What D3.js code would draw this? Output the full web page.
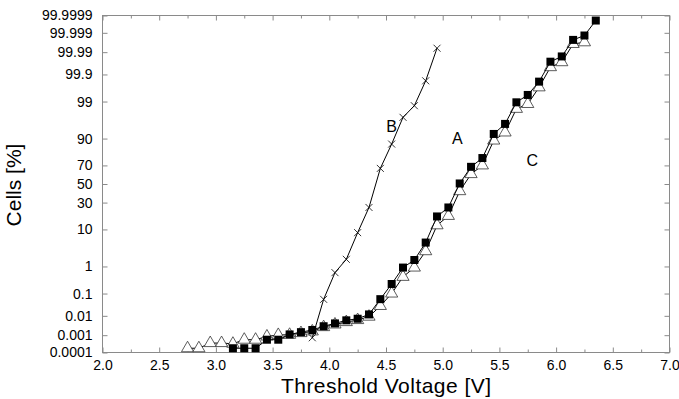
<!DOCTYPE html>
<html>
<head>
<meta charset="utf-8">
<script src="https://cdn.jsdelivr.net/npm/d3@7"></script>
<style>
  body { margin: 0; background: #fff; }
  svg { display: block; font-family: "Liberation Sans", Arial, sans-serif; }
  .frame { fill: none; stroke: #8a8a8a; stroke-width: 1; }
  .axis path.domain { display: none; }
  .axis line { stroke: #8a8a8a; }
  .axis text { font-size: 14px; fill: #000; }
  .series { fill: none; stroke: #000; stroke-width: 1; }
</style>
</head>
<body>
<svg id="chart" width="679" height="399"></svg>
<script>
// x ticks (V)
const xTicks = [2.0, 2.5, 3.0, 3.5, 4.0, 4.5, 5.0, 5.5, 6.0, 6.5, 7.0];
const xMinorTicks = [2.25, 2.75, 3.25, 3.75, 4.25, 4.75, 5.25, 5.75, 6.25, 6.75];
// y ticks (cumulative %)
const yTicks = [0.0001, 0.001, 0.01, 0.1, 1, 10, 30, 50, 70, 90, 99, 99.9, 99.99, 99.999, 99.9999];
const yTickLabels = ['0.0001', '0.001', '0.01', '0.1', '1', '10', '30', '50', '70', '90', '99', '99.9', '99.99', '99.999', '99.9999'];

// series A : filled squares
const voltsA = [3.15, 3.25, 3.35, 3.45, 3.55, 3.65, 3.75, 3.85, 3.95, 4.05, 4.15, 4.25, 4.35, 4.45, 4.55, 4.65, 4.75,
  4.85, 4.95, 5.05, 5.15, 5.25, 5.35, 5.45, 5.55, 5.65, 5.75, 5.85, 5.95, 6.05, 6.15, 6.25, 6.35];
const cellsA = [0.00018, 0.00018, 0.00018, 0.00056, 0.00056, 0.0011, 0.00146, 0.0019, 0.003, 0.0042, 0.006, 0.0072, 0.0117,
  0.058, 0.24, 0.92, 1.6, 4.93, 18.0, 25.4, 50.6, 68.6, 76.8, 92.1, 95.5, 98.94, 99.4, 99.806, 99.972, 99.984, 99.9976,
  99.9986, 99.9998];

// series B : crosses
const voltsB = [3.85, 3.95, 4.05, 4.15, 4.25, 4.35, 4.45, 4.55, 4.65, 4.75, 4.85, 4.95];
const cellsB = [0.00072, 0.057, 0.62, 1.68, 8.5, 25.4, 67, 87, 97.0, 98.64, 99.82, 99.9936];

// series C : open triangles
const voltsC = [2.75, 2.85, 2.95, 3.05, 3.15, 3.25, 3.35, 3.45, 3.55, 3.65, 3.75, 3.85, 3.95, 4.05, 4.15, 4.25, 4.35, 4.45,
  4.55, 4.65, 4.75, 4.85, 4.95, 5.05, 5.15, 5.25, 5.35, 5.45, 5.55, 5.65, 5.75, 5.85, 5.95, 6.05, 6.15, 6.25];
const cellsC = [0.00018, 0.00018, 0.00036, 0.00036, 0.00033, 0.00056, 0.00056, 0.00085, 0.00103, 0.00105, 0.0013, 0.0016,
  0.0027, 0.0037, 0.0049, 0.0062, 0.0091, 0.029, 0.10, 0.44, 0.92, 2.9, 12.2, 18.4, 42, 61, 70, 89, 92.7, 98.3, 98.8,
  99.68, 99.951, 99.9705, 99.9961, 99.9968];

// curve labels
const labelNames = ['B', 'A', 'C'];
const labelVolts = [4.55, 5.13, 5.79];
const labelCells = [92.7, 86.9, 69.6];

// inverse normal cdf (Acklam) -> probability axis
function probit(p) {
  const a = [-39.69683028665376, 220.9460984245205, -275.9285104469687, 138.3577518672690, -30.66479806614716, 2.506628277459239];
  const b = [-54.47609879822406, 161.5858368580409, -155.6989798598866, 66.80131188771972, -13.28068155288572];
  const c = [-0.007784894002430293, -0.3223964580411365, -2.400758277161838, -2.549732539343734, 4.374664141464968, 2.938163982698783];
  const d = [0.007784695709041462, 0.3224671290700398, 2.445134137142996, 3.754408661907416];
  const pl = 0.02425;
  let q, r;
  if (p < pl) {
    q = Math.sqrt(-2 * Math.log(p));
    return (((((c[0] * q + c[1]) * q + c[2]) * q + c[3]) * q + c[4]) * q + c[5]) / ((((d[0] * q + d[1]) * q + d[2]) * q + d[3]) * q + 1);
  }
  if (p > 1 - pl) {
    q = Math.sqrt(-2 * Math.log(1 - p));
    return -(((((c[0] * q + c[1]) * q + c[2]) * q + c[3]) * q + c[4]) * q + c[5]) / ((((d[0] * q + d[1]) * q + d[2]) * q + d[3]) * q + 1);
  }
  q = p - 0.5;
  r = q * q;
  return (((((a[0] * r + a[1]) * r + a[2]) * r + a[3]) * r + a[4]) * r + a[5]) * q / (((((b[0] * r + b[1]) * r + b[2]) * r + b[3]) * r + b[4]) * r + 1);
}

const margin = { top: 15.5, right: 9.5, bottom: 46.5, left: 102.5 };
const width = 679 - margin.left - margin.right;
const height = 399 - margin.top - margin.bottom;

const svg = d3.select('#chart');
const g = svg.append('g').attr('transform', `translate(${margin.left},${margin.top})`);

const x = d3.scaleLinear().domain([2, 7]).range([0, width]);
const y = d3.scaleLinear().domain([probit(1e-6), probit(1 - 1e-6)]).range([height, 0]);
const yPct = v => y(probit(v / 100));

// axes: ticks point inward on all four sides
g.append('g').attr('class', 'axis')
  .attr('transform', `translate(0,${height})`)
  .call(d3.axisBottom(x).tickValues(xTicks).tickSize(-5).tickPadding(8).tickFormat(d3.format('.1f')));
g.append('g').attr('class', 'axis')
  .attr('transform', `translate(0,${height})`)
  .call(d3.axisBottom(x).tickValues(xMinorTicks).tickSize(-3).tickFormat(''));
g.append('g').attr('class', 'axis')
  .call(d3.axisTop(x).tickValues(xTicks).tickSize(-5).tickFormat(''));
g.append('g').attr('class', 'axis')
  .call(d3.axisTop(x).tickValues(xMinorTicks).tickSize(-3).tickFormat(''));
g.append('g').attr('class', 'axis')
  .call(d3.axisLeft(y).tickValues(yTicks.map(v => probit(v / 100))).tickSize(-5).tickPadding(10)
    .tickFormat((d, i) => yTickLabels[i]));
g.append('g').attr('class', 'axis')
  .attr('transform', `translate(${width},0)`)
  .call(d3.axisRight(y).tickValues(yTicks.map(v => probit(v / 100))).tickSize(-5).tickFormat(''));

g.append('rect').attr('class', 'frame').attr('width', width).attr('height', height);

// axis titles
svg.append('text')
  .attr('x', margin.left + width / 2).attr('y', 393)
  .attr('text-anchor', 'middle').style('font-size', '21px')
  .attr('textLength', 210)
  .text('Threshold Voltage [V]');
svg.append('text')
  .attr('transform', 'translate(21,185) rotate(-90)')
  .attr('text-anchor', 'middle').style('font-size', '21px')
  .text('Cells [%]');

const line = d3.line().x(d => x(d[0])).y(d => yPct(d[1]));
const dataA = d3.zip(voltsA, cellsA);
const dataB = d3.zip(voltsB, cellsB);
const dataC = d3.zip(voltsC, cellsC);

// C - open triangles
g.append('path').attr('class', 'series').attr('d', line(dataC));
g.selectAll('.mark_c').data(dataC).enter()
  .append('path')
  .attr('class', 'mark_c')
  .attr('d', d3.symbol().type(d3.symbolTriangle).size(64))
  .attr('transform', d => `translate(${x(d[0])},${yPct(d[1])})`)
  .attr('fill', '#fff')
  .attr('stroke', '#333')
  .attr('stroke-width', 0.8);

// A - filled squares
g.append('path').attr('class', 'series').attr('d', line(dataA));
g.selectAll('.mark_a').data(dataA).enter()
  .append('path')
  .attr('class', 'mark_a')
  .attr('d', d3.symbol().type(d3.symbolSquare).size(64))
  .attr('transform', d => `translate(${x(d[0])},${yPct(d[1])})`)
  .attr('fill', '#000');

// B - crosses
g.append('path').attr('class', 'series').attr('d', line(dataB));
g.selectAll('.mark_b').data(dataB).enter()
  .append('path')
  .attr('class', 'mark_b')
  .attr('d', 'M-3.5,-3.5L3.5,3.5M-3.5,3.5L3.5,-3.5')
  .attr('transform', d => `translate(${x(d[0])},${yPct(d[1])})`)
  .attr('stroke', '#000')
  .attr('stroke-width', 0.8);

// curve names
g.selectAll('.curve_name').data(labelNames).enter()
  .append('text')
  .attr('class', 'curve_name')
  .attr('x', (d, i) => x(labelVolts[i]))
  .attr('y', (d, i) => yPct(labelCells[i]))
  .attr('text-anchor', 'middle')
  .style('font-size', '16px')
  .text(d => d);
</script>
</body>
</html>
